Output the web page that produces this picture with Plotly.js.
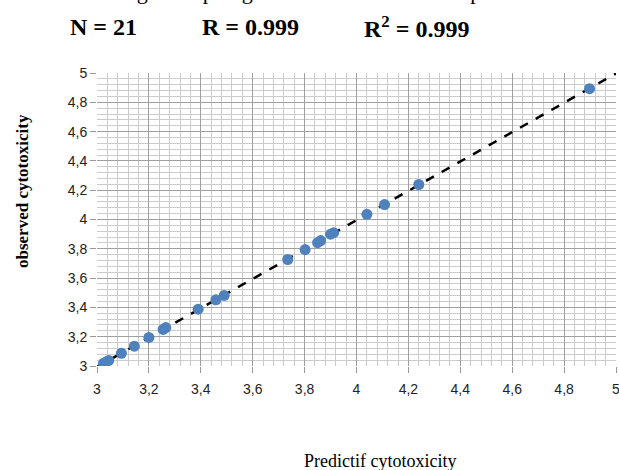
<!DOCTYPE html>
<html>
<head>
<meta charset="utf-8">
<script src="https://cdn.plot.ly/plotly-3.0.1.min.js"></script>
<style>html,body{margin:0;padding:0;background:#fff;}#chart{width:619px;height:470px;}</style>
</head>
<body>
<div id="chart"></div>
<script>
// Predicted vs observed cytotoxicity
const predicted = [3.025, 3.035, 3.045, 3.094, 3.144, 3.200, 3.255, 3.265, 3.390, 3.458, 3.490, 3.735, 3.802, 3.850, 3.862, 3.900, 3.912, 4.040, 4.108, 4.240, 4.898];
const observed  = [3.018, 3.028, 3.038, 3.087, 3.135, 3.195, 3.250, 3.262, 3.388, 3.452, 3.482, 3.727, 3.795, 3.842, 3.856, 3.900, 3.910, 4.035, 4.102, 4.239, 4.893];
const statsLabels = ["N = 21", "R = 0.999", "R<sup>2</sup> = 0.999"];
const xTitle = "Predictif cytotoxicity";
const yTitle = "observed cytotoxicity";
const topLine = "considering the topological and the electronic aspects of a";
const axisRange = [3, 5];

// least-squares trend line through the data
const n = predicted.length;
const mx = predicted.reduce((a, b) => a + b, 0) / n;
const my = observed.reduce((a, b) => a + b, 0) / n;
let sxy = 0, sxx = 0;
for (let i = 0; i < n; i++) { sxy += (predicted[i] - mx) * (observed[i] - my); sxx += (predicted[i] - mx) ** 2; }
const slope = sxy / sxx, intercept = my - slope * mx;
const fitX = axisRange.slice();
const fitY = fitX.map(x => intercept + slope * x);

const tickFont = {family: "Liberation Sans Narrow, Arial Narrow, Liberation Sans, sans-serif", size: 14, color: "#222"};
const serif = "Liberation Serif, Times New Roman, serif";

const traces = [
  {x: fitX, y: fitY, mode: "lines", type: "scatter", line: {color: "#000", width: 2.5, dash: "dash"}, hoverinfo: "skip"},
  {x: predicted, y: observed, mode: "markers", type: "scatter", marker: {color: "#4F81BD", size: 11}}
];

const L = 97, R = 3, T = 73, B = 104, W = 619, H = 470;
const pw = W - L - R, ph = H - T - B;
const px = v => (v - L) / pw;          // page px -> paper x
const py = v => (H - B - v) / ph;      // page px -> paper y

const statX = [103, 250, 416];
const annotations = statsLabels.map((t, i) => ({
  text: "<b>" + t + "</b>", xref: "paper", yref: "paper", x: px(statX[i]), y: py(27),
  xanchor: "center", yanchor: "middle", showarrow: false,
  font: {family: serif, size: 24, color: "#000"}
}));
annotations.push({
  text: topLine, xref: "paper", yref: "paper", x: px(300), y: py(-9),
  xanchor: "center", yanchor: "middle", showarrow: false,
  font: {family: serif, size: 22, color: "#000"}
});
annotations.push({
  text: xTitle, xref: "paper", yref: "paper", x: px(380), y: py(461),
  xanchor: "center", yanchor: "middle", showarrow: false,
  font: {family: serif, size: 18, color: "#000"}
});
annotations.push({
  text: "<b>" + yTitle + "</b>", xref: "paper", yref: "paper", x: px(22), y: py(191),
  xanchor: "center", yanchor: "middle", showarrow: false, textangle: -90,
  font: {family: serif, size: 17, color: "#000"}
});

const layout = {
  width: W, height: H,
  margin: {l: L, r: R, t: T, b: B},
  paper_bgcolor: "#fff", plot_bgcolor: "#fff",
  showlegend: false,
  separators: ", ",
  xaxis: {
    range: axisRange, dtick: 0.2, tick0: 3, showgrid: true, gridcolor: "#a0a0a0", gridwidth: 1,
    minor: {dtick: 0.04, showgrid: true, gridcolor: "#cccccc", gridwidth: 1},
    ticks: "outside", ticklen: 6, tickcolor: "#999", zeroline: false, showline: false,
    tickfont: tickFont, ticklabeloverflow: "allow", ticklabelstandoff: 4
  },
  yaxis: {
    range: axisRange, dtick: 0.2, tick0: 3, showgrid: true, gridcolor: "#a0a0a0", gridwidth: 1,
    minor: {dtick: 0.04, showgrid: true, gridcolor: "#cccccc", gridwidth: 1},
    ticks: "outside", ticklen: 6, tickcolor: "#999", zeroline: false, showline: false,
    tickfont: tickFont
  },
  annotations: annotations
};

Plotly.newPlot("chart", traces, layout, {displayModeBar: false, staticPlot: true});
</script>
</body>
</html>
